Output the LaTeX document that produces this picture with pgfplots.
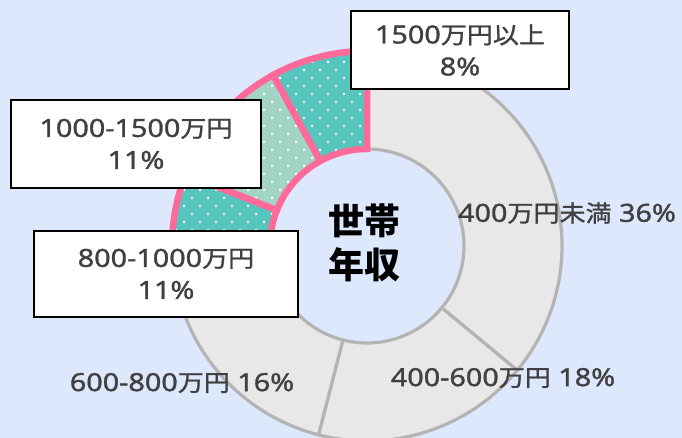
\documentclass[border=0pt]{standalone}
\usepackage{pgfplots}
\pgfplotsset{compat=1.18}
\usetikzlibrary{patterns}
\usepackage{fontspec}
\setmainfont{Noto Sans}[FakeStretch=1.15, FakeBold=1.2]
\newfontfamily\cjk{Noto Sans CJK JP}[FakeStretch=1.12, Scale=0.93, FakeBold=1.2]
\newfontfamily\cjkc{Noto Sans CJK JP}
\definecolor{bgc}{HTML}{DDE8FD}
\definecolor{greyfill}{HTML}{E8E8E8}
\definecolor{greyline}{HTML}{B4B4B4}
\definecolor{tealc}{HTML}{56C5BE}
\definecolor{ltealc}{HTML}{A3D5C6}
\definecolor{pinkc}{HTML}{FF6A9B}
\definecolor{txt}{HTML}{404040}
\pgfdeclarepatternformonly{wdots}{\pgfqpoint{-1pt}{-1pt}}{\pgfqpoint{15pt}{15pt}}{\pgfqpoint{16pt}{16pt}}{%
  \pgfpathrectangle{\pgfqpoint{-1pt}{-1pt}}{\pgfqpoint{2pt}{2pt}}%
  \pgfpathrectangle{\pgfqpoint{7pt}{7pt}}{\pgfqpoint{2pt}{2pt}}%
  \pgfusepath{fill}}
% wedge: start percentage, share in percent
\newcommand\wedgepath[2]{({90-3.6*#1}:195pt) arc[start angle={90-3.6*#1}, end angle={90-3.6*(#1+#2)}, radius=195pt] -- ({90-3.6*(#1+#2)}:97pt) arc[start angle={90-3.6*(#1+#2)}, end angle={90-3.6*#1}, radius=97pt] -- cycle}
\begin{document}
\begin{tikzpicture}
\begin{axis}[name=ax, x=1pt, y=1pt, scale only axis, hide axis,
  xmin=0, xmax=682, ymin=0, ymax=438, clip=true,
  at={(0,0)}, anchor=south west]
\fill[bgc] (axis cs:0,0) rectangle (axis cs:682,438);
\begin{scope}[shift={(axis cs:367,192)}]
  % grey segments: 400万円未満 36, 400-600万円 18, 600-800万円 16
  \filldraw[fill=greyfill, draw=greyline, line width=3.2pt] \wedgepath{0}{36};
  \filldraw[fill=greyfill, draw=greyline, line width=3.2pt] \wedgepath{36}{18};
  \filldraw[fill=greyfill, draw=greyline, line width=3.2pt] \wedgepath{54}{16};
  % highlighted: 800-1000万円 11, 1000-1500万円 11, 1500万円以上 8
  \fill[tealc] \wedgepath{70}{11};
  \fill[ltealc] \wedgepath{81}{11};
  \fill[tealc] \wedgepath{92}{8};
  \fill[pattern=wdots, pattern color=white] \wedgepath{70}{11};
  \fill[pattern=wdots, pattern color=white] \wedgepath{81}{11};
  \fill[pattern=wdots, pattern color=white] \wedgepath{92}{8};
  \draw[pinkc, line width=6.5pt] \wedgepath{70}{11};
  \draw[pinkc, line width=6.5pt] \wedgepath{81}{11};
  \draw[pinkc, line width=6.5pt] \wedgepath{92}{8};
\end{scope}
\node[font=\cjkc\fontsize{36}{44}\selectfont\bfseries, align=center, text=black] at (axis cs:364,195) {世帯\\年収};
\node[font=\fontsize{25}{32}\selectfont, text=txt] at (axis cs:567,225) {400{\cjk 万円未満} 36\%};
\node[font=\fontsize{25}{32}\selectfont, text=txt] at (axis cs:503,60) {400-600{\cjk 万円} 18\%};
\node[font=\fontsize{25}{32}\selectfont, text=txt] at (axis cs:182,55) {600-800{\cjk 万円} 16\%};
\node[draw=black, fill=white, line width=1.8pt, inner sep=0pt, minimum width=218pt, minimum height=78pt, align=center, text=txt, font=\fontsize{25}{32}\selectfont] at (axis cs:460,388) {1500{\cjk 万円以上}\\8\%};
\node[draw=black, fill=white, line width=1.8pt, inner sep=0pt, minimum width=250pt, minimum height=88pt, align=center, text=txt, font=\fontsize{25}{32}\selectfont] at (axis cs:136,294) {1000-1500{\cjk 万円}\\11\%};
\node[draw=black, fill=white, line width=1.8pt, inner sep=0pt, minimum width=264pt, minimum height=86pt, align=center, text=txt, font=\fontsize{25}{32}\selectfont] at (axis cs:166,164) {800-1000{\cjk 万円}\\11\%};
\end{axis}
\pgfresetboundingbox
\path[use as bounding box] (ax.south west) rectangle (ax.north east);
\end{tikzpicture}
\end{document}
